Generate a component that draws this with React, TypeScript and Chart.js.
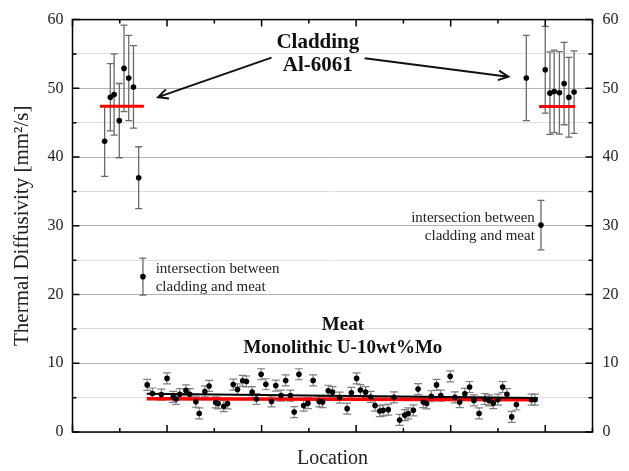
import React, { useEffect, useRef } from 'react';
import { Chart, registerables } from 'chart.js';

Chart.register(...registerables);

// ---- Data (x in "location" units, one unit per x tick) ----
const cladLeftX = [0.18, 0.30, 0.38, 0.49, 0.59, 0.69, 0.79, 0.90];
const cladLeftY = [42.3, 48.7, 49.1, 45.3, 52.9, 51.5, 50.2, 37.0];
const cladLeftErr = [5.1, 4.9, 5.9, 5.4, 6.3, 6.2, 6.0, 4.5];

const cladRightX = [9.10, 9.50, 9.60, 9.69, 9.80, 9.90, 10.00, 10.11];
const cladRightY = [51.5, 52.7, 49.3, 49.55, 49.35, 50.7, 48.7, 49.45];
const cladRightErr = [6.2, 6.3, 6.0, 6.0, 6.0, 6.0, 5.8, 6.0];

const interX = [0.99, 9.41];
const interY = [22.6, 30.1];
const interErr = [2.7, 3.6];

const meatX = [
  1.08, 1.19, 1.38, 1.50, 1.63, 1.69, 1.77, 1.90, 1.98, 2.11,
  2.18, 2.30, 2.39, 2.53, 2.58, 2.70, 2.78, 2.90, 2.99, 3.10,
  3.18, 3.30, 3.39, 3.49, 3.59, 3.71, 3.80, 3.91, 4.01, 4.11,
  4.19, 4.29, 4.39, 4.48, 4.59, 4.72, 4.79, 4.91, 5.00, 5.15,
  5.31, 5.40, 5.51, 5.59, 5.70, 5.81, 5.90, 6.00, 6.07, 6.18,
  6.30, 6.42, 6.53, 6.60, 6.71, 6.81, 6.92, 6.99, 7.09, 7.20,
  7.29, 7.49, 7.59, 7.69, 7.80, 7.90, 7.99, 8.10, 8.22, 8.31,
  8.40, 8.50, 8.60, 8.69, 8.79, 8.89, 9.21, 9.28,
];
const meatY = [
  6.85, 5.6, 5.45, 7.8, 5.1, 4.8, 5.5, 6.05, 5.5, 4.4,
  2.7, 5.9, 6.7, 4.3, 4.15, 3.75, 4.15, 6.9, 6.2, 7.45,
  7.35, 5.8, 4.8, 8.4, 6.95, 4.45, 6.75, 5.3, 7.5, 5.3,
  2.9, 8.4, 3.85, 4.2, 7.5, 4.45, 4.35, 6.0, 5.8, 5.0,
  3.4, 5.7, 7.8, 6.1, 5.8, 5.1, 3.85, 3.05, 3.15, 3.25,
  5.05, 1.75, 2.45, 2.7, 3.15, 6.25, 4.35, 4.15, 5.2, 6.85,
  5.3, 8.1, 5.05, 4.35, 5.55, 6.55, 4.6, 2.7, 4.8, 4.6,
  4.2, 4.7, 6.55, 5.5, 2.2, 4.0, 4.7, 4.7,
];
const MEAT_ERR = 0.8;

const cladLeftMeanX = [0.08, 1.01];
const cladLeftMeanY = [47.4, 47.4];
const cladRightMeanX = [9.37, 10.13];
const cladRightMeanY = [47.35, 47.35];
const meatMeanX = [1.07, 9.34];
const meatMeanY = [4.85, 4.7];
const meatFitX = [1.07, 9.34];
const meatFitY = [5.55, 4.95];

const yTicks = { min: 0, max: 60, step: 5 };
const xTicks = { min: -0.5, max: 10.5, step: 1 };

const FONT = '"Liberation Serif", "Times New Roman", serif';

const pts = (xs: number[], ys: number[]) => xs.map((x, i) => ({ x, y: ys[i] }));

const errorBarPlugin = {
  id: 'errorBars',
  beforeDatasetsDraw(chart: any) {
    const { ctx, scales } = chart;
    const x = scales.x, y = scales.y;
    chart.data.datasets.forEach((ds: any) => {
      if (ds.errors === undefined) return;
      ctx.save();
      ctx.strokeStyle = ds.errorColor;
      ctx.lineWidth = ds.errorWidth;
      const cap = ds.capHalf;
      ds.data.forEach((p: any, j: number) => {
        const e = Array.isArray(ds.errors) ? ds.errors[j] : ds.errors;
        const px = x.getPixelForValue(p.x);
        const yt = y.getPixelForValue(p.y + e);
        const yb = y.getPixelForValue(p.y - e);
        ctx.beginPath();
        ctx.moveTo(px, yt); ctx.lineTo(px, yb);
        ctx.moveTo(px - cap, yt); ctx.lineTo(px + cap, yt);
        ctx.moveTo(px - cap, yb); ctx.lineTo(px + cap, yb);
        ctx.stroke();
      });
      ctx.restore();
    });
  },
};

const frameTicksPlugin = {
  id: 'frameTicks',
  afterDraw(chart: any) {
    const { ctx, chartArea: a, scales } = chart;
    const x = scales.x, y = scales.y;
    ctx.save();
    ctx.strokeStyle = '#000';
    ctx.lineWidth = 1.5;
    ctx.strokeRect(a.left, a.top, a.right - a.left, a.bottom - a.top);
    ctx.beginPath();
    x.ticks.forEach((t: any) => {
      const px = x.getPixelForValue(t.value);
      const len = Math.round(t.value) % 2 === 0 ? 7 : 4;
      ctx.moveTo(px, a.bottom); ctx.lineTo(px, a.bottom - len);
      ctx.moveTo(px, a.top); ctx.lineTo(px, a.top + len);
    });
    y.ticks.forEach((t: any) => {
      const py = y.getPixelForValue(t.value);
      const len = t.value % 10 === 0 ? 7 : 4;
      ctx.moveTo(a.left, py); ctx.lineTo(a.left + len, py);
      ctx.moveTo(a.right, py); ctx.lineTo(a.right - len, py);
    });
    ctx.stroke();
    ctx.restore();
  },
};

const annotationPlugin = {
  id: 'notes',
  afterDatasetsDraw(chart: any) {
    const { ctx, scales } = chart;
    const opts = chart.options.plugins.notes;
    const X = (v: number) => scales.x.getPixelForValue(v);
    const Y = (v: number) => scales.y.getPixelForValue(v);
    ctx.save();
    ctx.strokeStyle = '#111';
    ctx.lineWidth = 2;
    opts.arrows.forEach((ar: any) => {
      const x0 = X(ar.from[0]), y0 = Y(ar.from[1]);
      const x1 = X(ar.to[0]), y1 = Y(ar.to[1]);
      const ang = Math.atan2(y1 - y0, x1 - x0);
      const h = 11, spread = 0.45;
      ctx.beginPath();
      ctx.moveTo(x0, y0); ctx.lineTo(x1, y1);
      ctx.moveTo(x1 - h * Math.cos(ang - spread), y1 - h * Math.sin(ang - spread));
      ctx.lineTo(x1, y1);
      ctx.lineTo(x1 - h * Math.cos(ang + spread), y1 - h * Math.sin(ang + spread));
      ctx.stroke();
    });
    opts.texts.forEach((t: any) => {
      ctx.font = t.font;
      ctx.fillStyle = t.color;
      ctx.textAlign = t.align;
      ctx.textBaseline = 'middle';
      ctx.fillText(t.text, X(t.x), Y(t.y));
    });
    ctx.restore();
  },
};

export default function App() {
  const ref = useRef<HTMLCanvasElement | null>(null);
  useEffect(() => {
    if (!ref.current) return;
    const dot = { pointRadius: 2.8, pointBackgroundColor: '#000', pointBorderWidth: 0, order: 0 };
    const chart = new Chart(ref.current, {
      type: 'scatter',
      data: {
        datasets: [
          { ...dot, data: pts(meatX, meatY), errors: MEAT_ERR, errorColor: '#808080', errorWidth: 1.2, capHalf: 4 } as any,
          { ...dot, data: pts(cladLeftX, cladLeftY), errors: cladLeftErr, errorColor: '#6a6a6a', errorWidth: 1.3, capHalf: 3.5 } as any,
          { ...dot, data: pts(cladRightX, cladRightY), errors: cladRightErr, errorColor: '#6a6a6a', errorWidth: 1.3, capHalf: 3.5 } as any,
          { ...dot, data: pts(interX, interY), errors: interErr, errorColor: '#6a6a6a', errorWidth: 1.3, capHalf: 3.5 } as any,
          { data: pts(meatFitX, meatFitY), showLine: true, pointRadius: 0, borderColor: '#000', borderWidth: 2, order: 1 },
          { data: pts(meatMeanX, meatMeanY), showLine: true, pointRadius: 0, borderColor: '#ff0000', borderWidth: 3.5, order: 1 },
          { data: pts(cladLeftMeanX, cladLeftMeanY), showLine: true, pointRadius: 0, borderColor: '#ff0000', borderWidth: 3, order: 1 },
          { data: pts(cladRightMeanX, cladRightMeanY), showLine: true, pointRadius: 0, borderColor: '#ff0000', borderWidth: 3, order: 1 },
        ],
      },
      options: {
        responsive: false,
        animation: false,
        devicePixelRatio: 1,
        layout: { padding: { top: 13, left: 0, right: 0, bottom: 0 } },
        plugins: {
          legend: { display: false },
          tooltip: { enabled: false },
          notes: {
            arrows: [
              { from: [3.71, 54.46], to: [1.31, 48.72] },
              { from: [5.68, 54.37], to: [8.72, 51.7] },
            ],
            texts: [
              { text: 'Cladding', x: 4.69, y: 56.7, align: 'center', font: `bold 21px ${FONT}`, color: '#111' },
              { text: 'Al-6061', x: 4.69, y: 53.35, align: 'center', font: `bold 21px ${FONT}`, color: '#111' },
              { text: 'intersection between', x: 1.26, y: 23.67, align: 'left', font: `15px ${FONT}`, color: '#222' },
              { text: 'cladding and meat', x: 1.26, y: 21.05, align: 'left', font: `15px ${FONT}`, color: '#222' },
              { text: 'intersection between', x: 9.28, y: 31.18, align: 'right', font: `15px ${FONT}`, color: '#222' },
              { text: 'cladding and meat', x: 9.28, y: 28.46, align: 'right', font: `15px ${FONT}`, color: '#222' },
              { text: 'Meat', x: 5.22, y: 15.6, align: 'center', font: `bold 19px ${FONT}`, color: '#111' },
              { text: 'Monolithic U-10wt%Mo', x: 5.22, y: 12.2, align: 'center', font: `bold 19px ${FONT}`, color: '#111' },
            ],
          },
        } as any,
        scales: {
          x: {
            type: 'linear',
            min: xTicks.min,
            max: xTicks.max,
            ticks: { stepSize: xTicks.step, display: false },
            grid: { display: false },
            border: { display: false },
            title: {
              display: true,
              text: 'Location',
              color: '#222',
              font: { family: FONT, size: 20 },
              padding: { top: 0, bottom: 0 },
            },
            afterFit: (s: any) => { s.height = 39; },
          },
          y: {
            type: 'linear',
            position: 'left',
            min: yTicks.min,
            max: yTicks.max,
            ticks: {
              stepSize: yTicks.step,
              padding: 9,
              color: '#222',
              font: { family: FONT, size: 16 },
              callback: (v: any) => (v % 10 === 0 ? String(v) : ''),
            },
            grid: {
              drawTicks: false,
              lineWidth: 1,
              color: (c: any) => (c.tick && c.tick.value % 10 === 0 ? '#b4b4b4' : '#dedede'),
            },
            border: { display: false },
            title: {
              display: true,
              text: 'Thermal Diffusivity [mm²/s]',
              color: '#222',
              font: { family: FONT, size: 21 },
              padding: { top: 10, bottom: 0 },
            },
            afterFit: (s: any) => { s.width = 72.5; },
          },
          y2: {
            type: 'linear',
            position: 'right',
            min: yTicks.min,
            max: yTicks.max,
            ticks: {
              stepSize: yTicks.step,
              padding: 10,
              color: '#222',
              font: { family: FONT, size: 16 },
              callback: (v: any) => (v % 10 === 0 ? String(v) : ''),
            },
            grid: { drawOnChartArea: false, drawTicks: false },
            border: { display: false },
            afterFit: (s: any) => { s.width = 36.5; },
          },
        },
      } as any,
      plugins: [errorBarPlugin, annotationPlugin, frameTicksPlugin],
    });
    return () => chart.destroy();
  }, []);
  return (
    <div style={{ position: 'absolute', left: 0, top: 0, width: 629, height: 471 }}>
      <canvas ref={ref} width={629} height={471} style={{ display: 'block' }} />
    </div>
  );
}
